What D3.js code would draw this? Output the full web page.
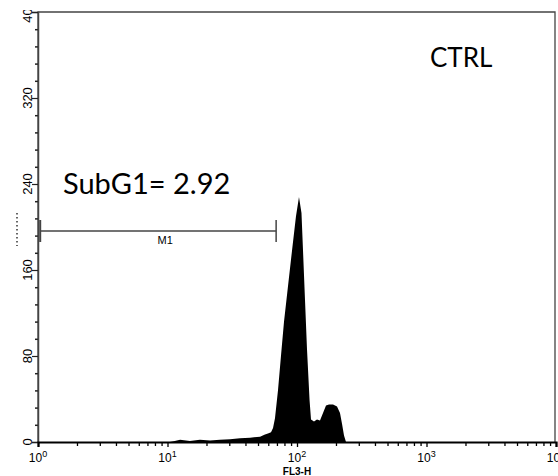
<!DOCTYPE html>
<html>
<head>
<meta charset="utf-8">
<script src="https://cdn.jsdelivr.net/npm/d3@7"></script>
<style>
body { margin: 0; background: #fff; }
svg { display: block; }
.lbl { font-family: "Liberation Sans Narrow", "Liberation Sans", Arial, sans-serif; fill: #000; }
.big { font-family: Lato, "Open Sans", sans-serif; fill: #000; }
</style>
</head>
<body>
<div id="chart"></div>
<script>
// FL3-H channel (log) and event counts
var fl3 = [10.45, 11.4, 12.5, 14.9, 17.8, 21.3, 25.4, 30.4, 36.3, 43.4, 51.8, 56.6, 59.7, 63.0, 65.3, 67.6,
           71.3, 75.2, 79.4, 85.2, 91.5, 98.2, 103.6, 108.3, 111.2, 115.3, 119.5, 125.0, 128.3,
           135.3, 142.7, 150.5, 158.8, 167.5, 176.7, 189.7, 203.7, 214.8, 222.6, 230.7, 239.0];
var counts = [0, 1, 2, 1, 2, 1.5, 2, 2.5, 3.5, 4, 5, 7, 8, 9, 13, 22,
              48, 80, 112, 145, 178, 210, 228, 213, 179, 132, 86, 39, 21,
              19, 21, 20, 27, 34, 35, 35, 33, 27, 17, 6, 0];

var yTicks = [0, 80, 160, 240, 320, 400];
var xDecades = [1, 10, 100, 1000, 10000];
var xExponents = ["0", "1", "2", "3", "4"];
var markerRange = [1.04, 69];
var markerName = "M1";
var gateText = "SubG1= 2.92";
var sampleText = "CTRL";
var xTitle = "FL3-H";

var width = 558, height = 476;

var svg = d3.select("#chart").append("svg")
  .attr("width", width)
  .attr("height", height);

svg.append("rect").attr("width", width).attr("height", height).attr("fill", "#fff");

var x = d3.scaleLog().domain([1, 10000]).range([38, 556]);
var y = d3.scaleLinear().domain([0, 400]).range([442, 12]);

var hist = fl3.map(function(v, i) { return { v: v, c: counts[i] }; });

// histogram
var area = d3.area()
  .x(function(d) { return x(d.v); })
  .y0(y(0))
  .y1(function(d) { return y(d.c); })
  .curve(d3.curveLinear);

svg.append("path")
  .datum(hist)
  .attr("d", area)
  .attr("fill", "#000");

// frame
svg.append("path")
  .attr("d", "M" + x(1) + "," + y(0) + "V" + y(400) + "H" + 555 + "V" + y(0))
  .attr("fill", "none")
  .attr("stroke", "#444")
  .attr("stroke-width", 1.3);

// y axis
var minorY = d3.range(0, 401, 16).filter(function(v) { return yTicks.indexOf(v) < 0; });

svg.append("g")
  .attr("transform", "translate(" + x(1) + ",0)")
  .call(d3.axisLeft(y).tickValues(minorY).tickSize(3).tickFormat(""))
  .call(function(g) { g.select(".domain").remove(); })
  .selectAll("line").attr("stroke", "#222").attr("stroke-width", 1.5);

var yAxis = svg.append("g")
  .attr("transform", "translate(" + x(1) + ",0)")
  .call(d3.axisLeft(y).tickValues(yTicks).tickSize(6).tickFormat(""))
  .call(function(g) { g.select(".domain").attr("stroke", "#444").attr("stroke-width", 1.5); });
yAxis.selectAll("line").attr("stroke", "#222").attr("stroke-width", 1.2);

svg.append("defs").append("clipPath").attr("id", "topclip")
  .append("rect").attr("x", 0).attr("y", 10).attr("width", 40).attr("height", 440);

svg.append("g").attr("clip-path", "url(#topclip)")
  .selectAll("text")
  .data(yTicks)
  .enter()
  .append("text")
  .attr("class", "lbl")
  .attr("transform", function(d) { return "translate(32," + y(d) + ") rotate(-90)"; })
  .attr("text-anchor", "middle")
  .style("font-size", "13px")
  .text(function(d) { return d; });

// dotted remnant of the y title
svg.append("line")
  .attr("x1", 17).attr("x2", 17).attr("y1", 213).attr("y2", 246)
  .attr("stroke", "#333").attr("stroke-width", 1.5)
  .attr("stroke-dasharray", "1.5,2.5");

// x axis
var minorX = [];
xDecades.slice(0, 4).forEach(function(d) {
  for (var k = 2; k < 10; k++) minorX.push(d * k);
});

svg.append("g")
  .attr("transform", "translate(0," + y(0) + ")")
  .call(d3.axisBottom(x).tickValues(minorX).tickSize(4).tickFormat(""))
  .call(function(g) { g.select(".domain").remove(); })
  .selectAll("line").attr("stroke", "#000").attr("stroke-width", 1.3);

var xAxis = svg.append("g")
  .attr("transform", "translate(0," + y(0) + ")")
  .call(d3.axisBottom(x).tickValues(xDecades).tickSize(5).tickFormat(""))
  .call(function(g) { g.select(".domain").attr("stroke", "#000").attr("stroke-width", 2.2); });
xAxis.selectAll("line").attr("stroke", "#000").attr("stroke-width", 1.3);

var xl = svg.selectAll(".xlab")
  .data(xDecades)
  .enter()
  .append("text")
  .attr("class", "lbl xlab")
  .attr("x", function(d) { return x(d); })
  .attr("y", 462)
  .attr("text-anchor", "middle")
  .style("font-size", "12px");
xl.append("tspan").text("10");
xl.append("tspan")
  .attr("dy", -5)
  .style("font-size", "9px")
  .text(function(d, i) { return xExponents[i]; });

svg.append("text")
  .attr("class", "lbl")
  .attr("x", x(100))
  .attr("y", 475)
  .attr("text-anchor", "middle")
  .style("font-size", "10px")
  .style("font-weight", "bold")
  .text(xTitle);

// M1 marker
var my = 231;
var marker = svg.append("g").attr("stroke", "#444").attr("stroke-width", 1.4);
marker.append("line")
  .attr("x1", x(markerRange[0])).attr("x2", x(markerRange[1]))
  .attr("y1", my).attr("y2", my);
marker.selectAll(".cap")
  .data(markerRange)
  .enter()
  .append("line")
  .attr("x1", function(d) { return x(d); })
  .attr("x2", function(d) { return x(d); })
  .attr("y1", my - 11).attr("y2", my + 11)
  .attr("stroke-width", function(d, i) { return i == 0 ? 2 : 1.5; });

svg.append("text")
  .attr("class", "lbl")
  .attr("x", (x(markerRange[0]) + x(markerRange[1])) / 2 + 7)
  .attr("y", 244)
  .attr("text-anchor", "middle")
  .style("font-size", "11px")
  .text(markerName);

// annotations
svg.append("text")
  .attr("class", "big")
  .attr("x", 63)
  .attr("y", 194)
  .style("font-size", "29px")
  .text(gateText);

svg.append("text")
  .attr("class", "big")
  .attr("x", 430)
  .attr("y", 67)
  .style("font-size", "26px")
  .text(sampleText);
</script>
</body>
</html>
